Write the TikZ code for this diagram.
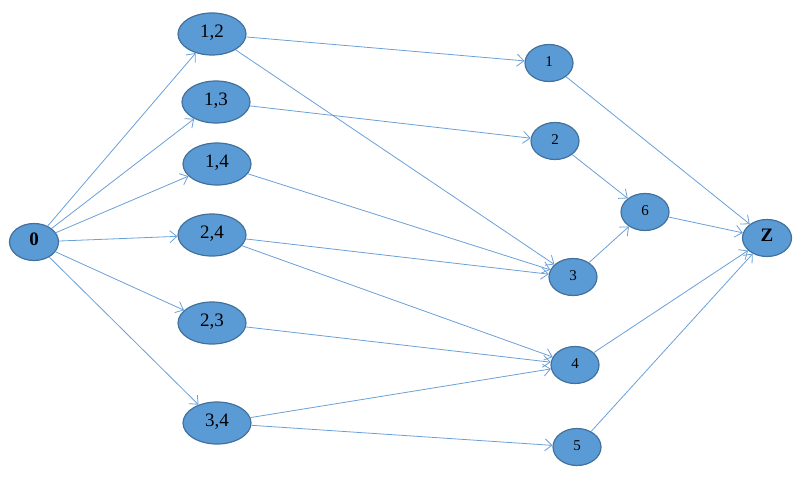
\documentclass[tikz,border=0pt]{standalone}
\usepackage{fontspec}
\setmainfont{Liberation Serif}
\usetikzlibrary{shapes.geometric,arrows.meta}
\definecolor{nodefill}{HTML}{5B9BD5}
\definecolor{nodeline}{HTML}{41719C}
\definecolor{edgecol}{HTML}{6A9FD8}
\begin{document}
\begin{tikzpicture}[x=1pt,y=-1pt,
  base/.style={ellipse,draw=nodeline,fill=nodefill,line width=1.2pt,inner sep=0pt,text=black,text height=0.68em,text depth=0.05em},
  bignode/.style={base,minimum width=68pt,minimum height=42pt,font=\fontsize{19}{20}\selectfont},
  smallnode/.style={base,minimum width=48pt,minimum height=37pt,font=\fontsize{15}{16}\selectfont},
  endnode/.style={base,minimum width=49pt,minimum height=37pt,font=\bfseries\fontsize{19}{20}\selectfont},
  conn/.style={draw=edgecol,line width=0.8pt,-{Straight Barb[length=7pt,width=12pt]}}]
\useasboundingbox (0,0) rectangle (802,476);
\node[endnode] (n0) at (34,242) {0};
\node[bignode] (n12) at (212,34) {1,2};
\node[bignode] (n13) at (216,102) {1,3};
\node[bignode] (n14) at (217,164) {1,4};
\node[bignode] (n24) at (212,235) {2,4};
\node[bignode] (n23) at (212,323) {2,3};
\node[bignode] (n34) at (217,423) {3,4};
\node[smallnode] (m1) at (549,63) {1};
\node[smallnode] (m2) at (555,141) {2};
\node[smallnode] (m6) at (645,212) {6};
\node[smallnode] (m3) at (573,277) {3};
\node[smallnode] (m4) at (575,365) {4};
\node[smallnode] (m5) at (577,447) {5};
\node[endnode] (z) at (767,238) {Z};
\foreach \t in {n12,n13,n14,n24,n23,n34} \draw[conn] (n0) -- (\t);
\draw[conn] (n12) -- (m1);
\draw[conn] (n12) -- (m3);
\draw[conn] (n13) -- (m2);
\draw[conn] (n14) -- (m3);
\draw[conn] (n24) -- (m3);
\draw[conn] (n24) -- (m4);
\draw[conn] (n23) -- (m4);
\draw[conn] (n34) -- (m4);
\draw[conn] (n34) -- (m5);
\draw[conn] (m1) -- (z);
\draw[conn] (m2) -- (m6);
\draw[conn] (m3) -- (m6);
\draw[conn] (m6) -- (z);
\draw[conn] (m4) -- (z);
\draw[conn] (m5) -- (z);
\end{tikzpicture}
\end{document}
